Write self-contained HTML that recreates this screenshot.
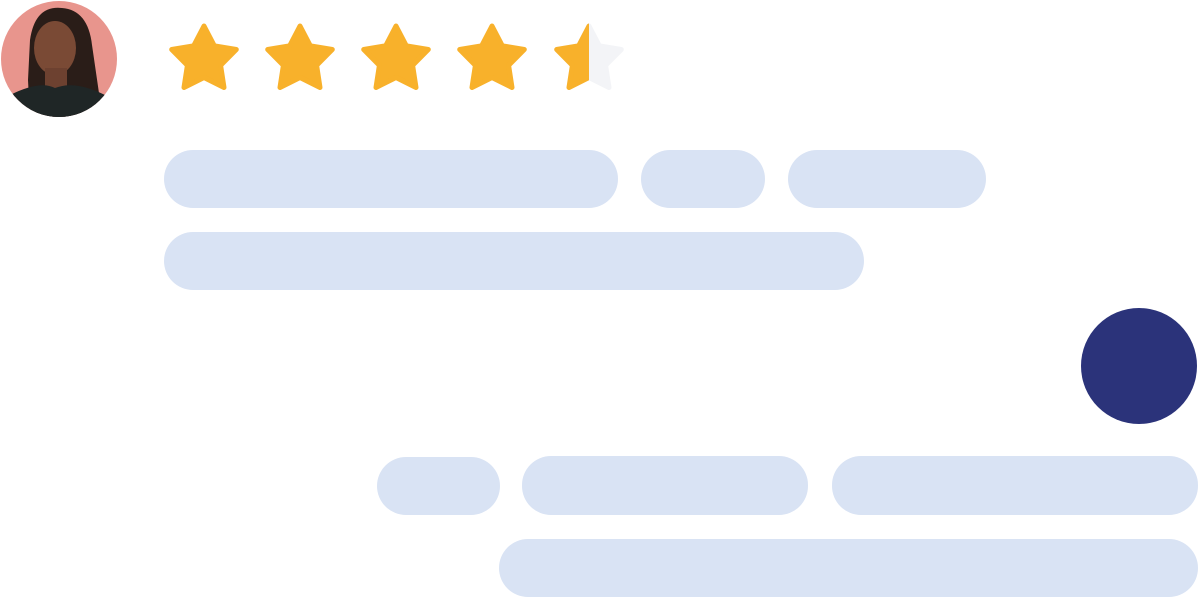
<!DOCTYPE html>
<html><head><meta charset="utf-8"><style>
html,body{margin:0;padding:0;background:#fff;width:1199px;height:598px;overflow:hidden}
</style></head><body>
<svg width="1199" height="598" viewBox="0 0 1199 598" xmlns="http://www.w3.org/2000/svg">
<defs>
<clipPath id="av"><circle cx="59" cy="59" r="58"/></clipPath>
<clipPath id="half"><rect x="550" y="0" width="39" height="120"/></clipPath>
</defs>
<g clip-path="url(#av)">
<rect x="0" y="0" width="120" height="120" fill="#e8958d"/>
<path d="M30 40 Q35 5 62 8 Q88 10 92 45 L100 100 L108 120 L30 120 L28 80 Z" fill="#2a1d18"/>
<ellipse cx="55" cy="48" rx="21" ry="27" fill="#7a4a35"/>
<rect x="45" y="68" width="22" height="22" fill="#6d4130"/>
<path d="M0 120 L10 95 Q40 80 55 88 Q75 80 105 95 L120 120 Z" fill="#1f2626"/>
</g>
<g fill="#f8b12b" stroke="#f8b12b" stroke-width="5" stroke-linejoin="round">
<polygon points="204,26 214.3,45.8 236.3,49.5 220.6,65.4 224,87.5 204,77.5 184,87.5 187.4,65.4 171.7,49.5 193.7,45.8"/>
<polygon transform="translate(96 0)" points="204,26 214.3,45.8 236.3,49.5 220.6,65.4 224,87.5 204,77.5 184,87.5 187.4,65.4 171.7,49.5 193.7,45.8"/>
<polygon transform="translate(192 0)" points="204,26 214.3,45.8 236.3,49.5 220.6,65.4 224,87.5 204,77.5 184,87.5 187.4,65.4 171.7,49.5 193.7,45.8"/>
<polygon transform="translate(288 0)" points="204,26 214.3,45.8 236.3,49.5 220.6,65.4 224,87.5 204,77.5 184,87.5 187.4,65.4 171.7,49.5 193.7,45.8"/>
<polygon fill="#f3f4f7" stroke="#f3f4f7" transform="translate(385 0)" points="204,26 214.3,45.8 236.3,49.5 220.6,65.4 224,87.5 204,77.5 184,87.5 187.4,65.4 171.7,49.5 193.7,45.8"/>
<g clip-path="url(#half)"><polygon transform="translate(385 0)" points="204,26 214.3,45.8 236.3,49.5 220.6,65.4 224,87.5 204,77.5 184,87.5 187.4,65.4 171.7,49.5 193.7,45.8"/></g>
</g>
<g fill="#d9e3f4">
<rect x="164" y="150" width="454" height="58" rx="29"/>
<rect x="641" y="150" width="124" height="58" rx="29"/>
<rect x="788" y="150" width="198" height="58" rx="29"/>
<rect x="164" y="232" width="700" height="58" rx="29"/>
<rect x="377" y="457" width="123" height="58" rx="29"/>
<rect x="522" y="456" width="286" height="59" rx="29"/>
<rect x="832" y="456" width="366" height="59" rx="29"/>
<rect x="499" y="539" width="699" height="58" rx="29"/>
</g>
<circle cx="1139" cy="366" r="58" fill="#2b337a"/>
</svg>
</body></html>
